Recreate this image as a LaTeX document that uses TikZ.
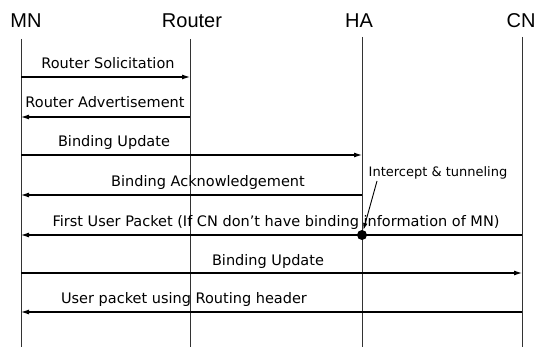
\documentclass[tikz,border=0pt]{standalone}
\usepackage{fontspec}
\setmainfont{DejaVu Sans}
\newfontfamily\headfont{Liberation Sans}
\usetikzlibrary{arrows.meta}
\begin{document}
\begin{tikzpicture}[x=1pt,y=-1pt,
  head/.style={font=\headfont\fontsize{20}{22}\selectfont, inner sep=0pt},
  lbl/.style={font=\fontsize{14.5}{16}\selectfont, inner sep=0pt},
  small/.style={font=\fontsize{13}{15}\selectfont, inner sep=0pt},
  life/.style={line width=0.6pt, black!80},
  msg/.style={line width=1.1pt, -{Latex[length=8pt,width=5pt]}},
  pt/.style={coordinate}]
\useasboundingbox (0,0) rectangle (545,347);
% headers
\node[head] (mn) at (26,21) {MN};
\node[head] (router) at (192,21) {Router};
\node[head] (ha) at (359,21) {HA};
\node[head] (cn) at (521,21) {CN};
% lifelines
\coordinate (mnT) at (21,39); \coordinate (mnB) at (21,347);
\coordinate (roT) at (190,39); \coordinate (roB) at (190,347);
\coordinate (haT) at (362,37); \coordinate (haB) at (362,347);
\coordinate (cnT) at (522,37); \coordinate (cnB) at (522,347);
\draw[life] (mnT) -- (mnB);
\draw[life] (roT) -- (roB);
\draw[life] (haT) -- (haB);
\draw[life] (cnT) -- (cnB);
% message end points
\coordinate (m1) at (21,77);  \coordinate (r1) at (190,77);
\coordinate (m2) at (21,117); \coordinate (r2) at (190,117);
\coordinate (m3) at (21,155); \coordinate (h3) at (362,155);
\coordinate (m4) at (21,195); \coordinate (h4) at (362,195);
\coordinate (m5) at (21,235); \coordinate (c5) at (522,235);
\coordinate (m6) at (21,273); \coordinate (c6) at (522,273);
\coordinate (m7) at (21,312); \coordinate (c7) at (522,312);
% messages
\draw[msg] (m1) -- (r1);
\node[lbl] (l1) at (108,63) {Router Solicitation};
\draw[msg] (r2) -- (m2);
\node[lbl] (l2) at (105,102) {Router Advertisement};
\draw[msg] (m3) -- (h3);
\node[lbl] (l3) at (114,143) {Binding Update};
\draw[msg] (h4) -- (m4);
\node[lbl] (l4) at (208,183) {Binding Acknowledgement};
\draw[msg] (c5) -- (m5);
\node[lbl] (l5) at (276,222) {First User Packet (If CN don't have binding information of MN)};
\draw[msg] (m6) -- (c6);
\node[lbl] (l6) at (268,261) {Binding Update};
\draw[msg] (c7) -- (m7);
\node[lbl] (l7) at (184,299) {User packet using Routing header};
% intercept
\node[circle, fill=black, inner sep=0pt, minimum size=10pt] (dot) at (362,235) {};
\node[small] (int) at (438,173) {Intercept \& tunneling};
\coordinate (intS) at (377,181);
\draw[line width=0.9pt, -{Latex[length=7pt,width=4.5pt]}] (intS) -- (dot);
\end{tikzpicture}
\end{document}
